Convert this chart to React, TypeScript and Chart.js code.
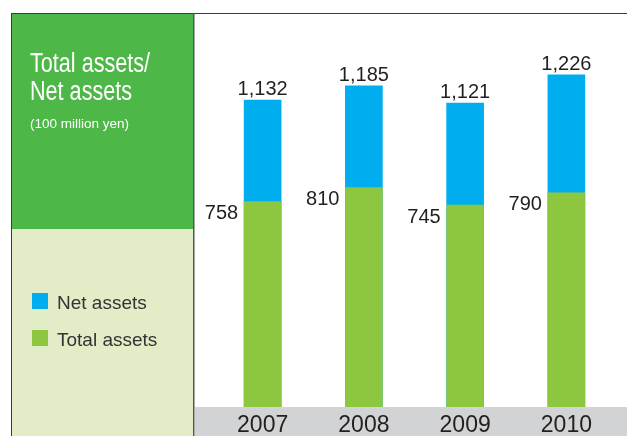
import React, { useEffect, useRef } from "react";
import { Chart, registerables } from "chart.js";

Chart.register(...registerables);

const years = ["2007", "2008", "2009", "2010"];
const netAssets = [1132, 1185, 1121, 1226];
const totalAssets = [758, 810, 745, 790];
const titleLines = ["Total assets/", "Net assets"];
const subtitle = "(100 million yen)";

const FONT = "'Liberation Sans', Arial, sans-serif";
const BLUE = "#00aeef";
const GREEN = "#8dc63f";

const fmt = (v: number) => v.toLocaleString("en-US");

const framePlugin = {
  id: "frame",
  beforeDraw(chart: any) {
    const { ctx, chartArea, width, height } = chart;
    ctx.save();
    ctx.fillStyle = "#ffffff";
    ctx.fillRect(0, 0, width, height);
    // left panel
    ctx.fillStyle = "#4db848";
    ctx.fillRect(11, 13, 183, 216);
    ctx.fillStyle = "#e2ecc7";
    ctx.fillRect(11, 229, 183, height - 229);
    // gray band under the bars
    ctx.fillStyle = "#d1d3d4";
    ctx.fillRect(195, chartArea.bottom, width - 195, height - chartArea.bottom);
    // borders
    ctx.strokeStyle = "#3a3a3a";
    ctx.lineWidth = 1;
    ctx.beginPath();
    ctx.moveTo(11, 13.5);
    ctx.lineTo(width, 13.5);
    ctx.moveTo(11.5, 13);
    ctx.lineTo(11.5, height);
    ctx.stroke();
    ctx.strokeStyle = "#555555";
    ctx.lineWidth = 1.5;
    ctx.beginPath();
    ctx.moveTo(193.75, 13);
    ctx.lineTo(193.75, height);
    ctx.stroke();
    // title
    ctx.fillStyle = "#ffffff";
    ctx.textBaseline = "alphabetic";
    ctx.textAlign = "left";
    ctx.font = `27px ${FONT}`;
    const baselines = [71.5, 100];
    titleLines.forEach((t, i) => {
      ctx.save();
      ctx.translate(30, baselines[i]);
      ctx.scale(0.8, 1);
      ctx.fillText(t, 0, 0);
      ctx.restore();
    });
    ctx.font = `13.5px ${FONT}`;
    ctx.fillText(subtitle, 30, 128);
    // legend (from datasets, in dataset order)
    const legendY = [293, 330];
    chart.data.datasets.forEach((ds: any, i: number) => {
      ctx.fillStyle = ds.backgroundColor;
      ctx.fillRect(32, legendY[i], 16, 16);
      ctx.fillStyle = "#333333";
      ctx.font = `19px ${FONT}`;
      ctx.fillText(ds.label, 57, legendY[i] + 16);
    });
    ctx.restore();
  },
};

const labelPlugin = {
  id: "valueLabels",
  afterDatasetsDraw(chart: any) {
    const { ctx } = chart;
    ctx.save();
    ctx.fillStyle = "#231f20";
    ctx.font = `20px ${FONT}`;
    ctx.textBaseline = "alphabetic";
    chart.data.datasets.forEach((ds: any, di: number) => {
      const meta = chart.getDatasetMeta(di);
      meta.data.forEach((bar: any, i: number) => {
        const v = ds.data[i];
        if (di === 0) {
          ctx.textAlign = "center";
          ctx.fillText(fmt(v), bar.x, bar.y - 5);
        } else {
          ctx.textAlign = "right";
          ctx.fillText(fmt(v), bar.x - bar.width / 2 - 6, bar.y + 17.5);
        }
      });
    });
    ctx.restore();
  },
};

export default function App() {
  const ref = useRef<HTMLCanvasElement | null>(null);
  useEffect(() => {
    if (!ref.current) return;
    const chart = new Chart(ref.current, {
      type: "bar",
      data: {
        labels: years,
        datasets: [
          {
            label: "Net assets",
            data: netAssets,
            backgroundColor: BLUE,
            order: 1,
            grouped: false,
            barThickness: 37,
          } as any,
          {
            label: "Total assets",
            data: totalAssets,
            backgroundColor: GREEN,
            order: 0,
            grouped: false,
            barThickness: 37,
          } as any,
        ],
      },
      options: {
        responsive: false,
        animation: false,
        layout: { padding: { left: 212, right: 10, top: 14, bottom: -8 } },
        plugins: {
          legend: { display: false },
          tooltip: { enabled: false },
        },
        scales: {
          x: {
            grid: { display: false, drawTicks: false },
            border: { display: false },
            ticks: {
              color: "#231f20",
              padding: 7,
              font: { family: FONT, size: 23, lineHeight: 1 },
            },
          },
          y: {
            display: false,
            min: 0,
            max: 1450,
          },
        },
      },
      plugins: [framePlugin, labelPlugin],
    });
    return () => chart.destroy();
  }, []);
  return (
    <div style={{ position: "fixed", left: 0, top: 0, width: 627, height: 436 }}>
      <canvas ref={ref} width={627} height={436} style={{ display: "block" }} />
    </div>
  );
}
